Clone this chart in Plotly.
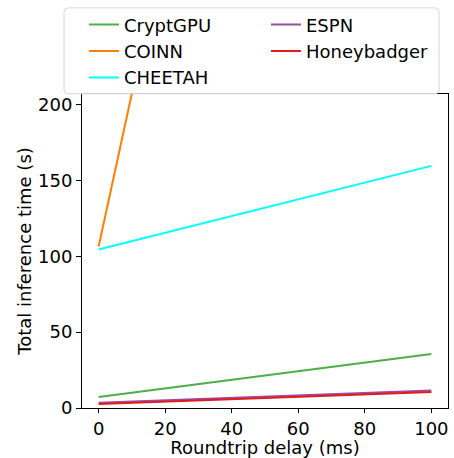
import plotly.graph_objects as go

delay_ms = [0, 100]
cryptgpu = [7.2, 35.6]
coinn = [106.5, 1116]
cheetah = [104.5, 159.6]
espn = [3.5, 11.5]
honeybadger = [2.7, 10.6]

series = [
    ("CryptGPU", cryptgpu, "#4daf4a", 1),
    ("COINN", coinn, "#ff7f00", 3),
    ("CHEETAH", cheetah, "#00ffff", 5),
    ("ESPN", espn, "#984ea3", 2),
    ("Honeybadger", honeybadger, "#e41a1c", 4),
]

fig = go.Figure()
for name, vals, color, rank in series:
    fig.add_trace(go.Scatter(x=delay_ms, y=vals, mode="lines", name=name,
                             line=dict(color=color, width=2), legendrank=rank))

# pixel geometry of the plot area
L, R, T, B = 82, 448, 91, 408.3
W, H = R - L, B - T

def px(x):
    return (x - L) / W

def py(y):
    return (B - y) / H

# rounded legend frame
bx0, bx1, by0, by1 = px(64), px(439), py(90.7), py(4)
rx, ry = 4 / W, 4 / H
frame = (f"M {bx0+rx},{by1} L {bx1-rx},{by1} Q {bx1},{by1} {bx1},{by1-ry} "
         f"L {bx1},{by0+ry} Q {bx1},{by0} {bx1-rx},{by0} "
         f"L {bx0+rx},{by0} Q {bx0},{by0} {bx0},{by0+ry} "
         f"L {bx0},{by1-ry} Q {bx0},{by1} {bx0+rx},{by1} Z")
fig.add_shape(type="path", path=frame, xref="paper", yref="paper",
              line=dict(color="#d6d6d6", width=1), fillcolor="rgba(255,255,255,0.85)",
              layer="above")

font = dict(family="DejaVu Sans", size=18, color="#000000")
fig.update_layout(
    width=454, height=458,
    margin=dict(l=L, r=454 - R, t=T, b=458 - B),
    paper_bgcolor="white", plot_bgcolor="white",
    font=font,
    showlegend=True,
    legend=dict(orientation="h", x=px(84), y=py(2.5), xanchor="left", yanchor="top",
                entrywidth=137, entrywidthmode="pixels",
                borderwidth=0, bgcolor="rgba(0,0,0,0)",
                font=dict(family="DejaVu Sans", size=18, color="#000000"),
                traceorder="normal"),
    xaxis=dict(range=[-5, 105], tickvals=[0, 20, 40, 60, 80, 100],
               showgrid=False, zeroline=False, showline=True, linecolor="black",
               linewidth=1, mirror=True, ticks="outside", ticklen=4, tickcolor="black",
               tickfont=dict(size=18), automargin=False,
               title=dict(text="Roundtrip delay (ms)", standoff=8, font=dict(size=18))),
    yaxis=dict(range=[0, 207], tickvals=[0, 50, 100, 150, 200],
               showgrid=False, zeroline=False, showline=True, linecolor="black",
               linewidth=1, mirror=True, ticks="outside", ticklen=5, tickcolor="black",
               tickfont=dict(size=18), automargin=False,
               title=dict(text="Total inference time (s)", standoff=1, font=dict(size=18))),
)

fig.write_html("out.html", config={"displayModeBar": False},
               post_script="document.body.style.margin='0';")
